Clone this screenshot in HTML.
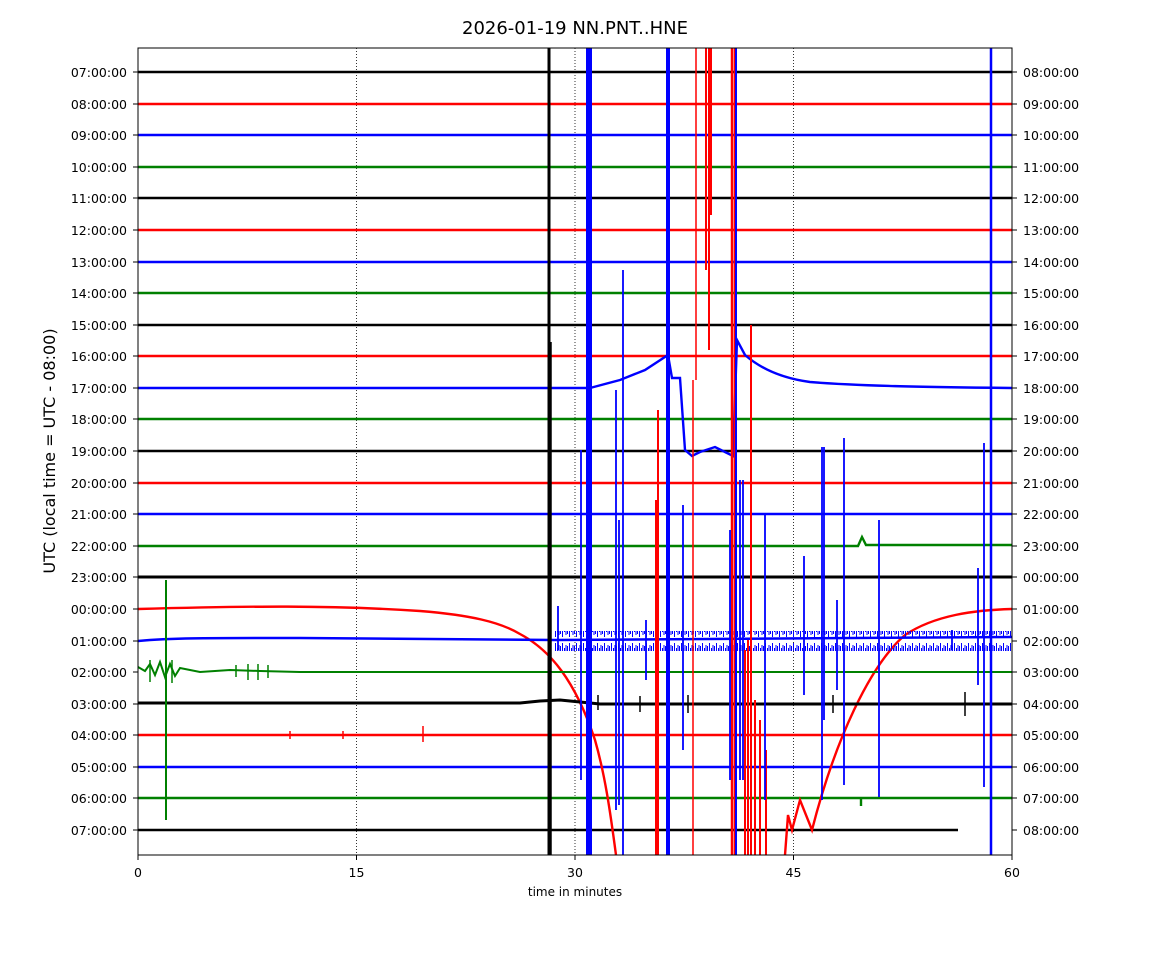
<!DOCTYPE html>
<html><head><style>
body{margin:0;background:#fff;}
svg text{font-family:"DejaVu Sans","Liberation Sans",sans-serif;}
</style></head><body>
<svg width="1150" height="950" viewBox="0 0 1150 950" xmlns="http://www.w3.org/2000/svg">
<rect width="1150" height="950" fill="#fff"/>
<text x="575" y="34" font-size="18" text-anchor="middle">2026-01-19 NN.PNT..HNE</text>
<defs>
<clipPath id="c"><rect x="138" y="48" width="874" height="807"/></clipPath>
<pattern id="nz" x="0" y="0" width="7" height="20" patternUnits="userSpaceOnUse">
<path d="M0.5 6V14M2.5 3V17M4.5 8V12M6 5V15" stroke="#00f" stroke-width="1"/>
</pattern>
</defs>
<g stroke="#000" stroke-width="0.8" stroke-dasharray="1,2">
<line x1="356.5" y1="48" x2="356.5" y2="855"/><line x1="575" y1="48" x2="575" y2="855"/><line x1="793.5" y1="48" x2="793.5" y2="855"/>
</g>
<g clip-path="url(#c)" fill="none" stroke-width="2.4">
<line x1="138" x2="1012" y1="72" y2="72" stroke="#000"/>
<line x1="138" x2="1012" y1="104" y2="104" stroke="#f00"/>
<line x1="138" x2="1012" y1="135" y2="135" stroke="#00f"/>
<line x1="138" x2="1012" y1="167" y2="167" stroke="#008000"/>
<line x1="138" x2="1012" y1="198" y2="198" stroke="#000"/>
<line x1="138" x2="1012" y1="230" y2="230" stroke="#f00"/>
<line x1="138" x2="1012" y1="262" y2="262" stroke="#00f"/>
<line x1="138" x2="1012" y1="293" y2="293" stroke="#008000"/>
<line x1="138" x2="1012" y1="325" y2="325" stroke="#000"/>
<line x1="138" x2="1012" y1="356" y2="356" stroke="#f00"/>
<line x1="138" x2="590" y1="388" y2="388" stroke="#00f"/>
<line x1="138" x2="1012" y1="419" y2="419" stroke="#008000"/>
<line x1="138" x2="1012" y1="451" y2="451" stroke="#000"/>
<line x1="138" x2="1012" y1="483" y2="483" stroke="#f00"/>
<line x1="138" x2="1012" y1="514" y2="514" stroke="#00f"/>
<path d="M138 546H858L862 537L866 545H1012" stroke="#008000"/>
<line x1="138" x2="1012" y1="577" y2="577" stroke="#000" stroke-width="3"/>
<line x1="138" x2="1012" y1="735" y2="735" stroke="#f00"/>
<line x1="138" x2="1012" y1="767" y2="767" stroke="#00f"/>
<line x1="138" x2="1012" y1="798" y2="798" stroke="#008000"/>
<line x1="138" x2="958" y1="830" y2="830" stroke="#000"/>
<!-- 00:00 red curve -->
<path d="M138 609C250 606 330 605 420 611C470 615 500 622 520 634C550 650 575 680 595 740C605 775 610 810 616 855" stroke="#f00"/>
<path d="M785 855L788 815L792 830L800 800L812 830C835 740 870 665 905 635C935 615 975 610 1012 609" stroke="#f00"/>
<!-- 01:00 blue -->
<path d="M138 641C170 638 200 638 300 638L555 640L1012 637" stroke="#00f" stroke-width="2.5"/>
<rect x="555" y="631" width="457" height="20" fill="url(#nz)" stroke="none"/>
<!-- 02:00 green -->
<path d="M138 667L145 671L150 664L155 675L160 662L165 677L170 664L175 676L180 668L200 672L230 670L260 671L300 672L1012 672" stroke="#008000" stroke-width="2"/>
<path d="M150 660V682M172 660V683M236 665V677M248 664V680M258 664V680M268 665V678" stroke="#008000" stroke-width="1.5"/>
<!-- 03:00 black -->
<path d="M138 703H520L540 701L560 700L580 702L600 704L1012 704" stroke="#000" stroke-width="3"/>
<path d="M598 695V710M640 696V712M688 695V713M833 695V713M965 692V716" stroke="#000" stroke-width="1.5"/>
<!-- 17:00 blue curve -->
<path d="M590 388L620 380L645 370L668 355L672 378L680 378L685 450L692 456L700 452L715 447L725 452L733 456L737 340L745 355C760 368 780 378 810 382C860 386 920 387 1012 388" stroke="#00f"/>
<!-- verticals -->
<line x1="549" y1="48" x2="549" y2="855" stroke="#000" stroke-width="3"/>
<line x1="551" y1="342" x2="551" y2="855" stroke="#000" stroke-width="1.5"/>
<line x1="589" y1="48" x2="589" y2="855" stroke="#00f" stroke-width="6"/>
<line x1="668" y1="48" x2="668" y2="855" stroke="#00f" stroke-width="4"/>
<line x1="991" y1="48" x2="991" y2="855" stroke="#00f" stroke-width="2.5"/>
<line x1="696" y1="48" x2="696" y2="380" stroke="#f00" stroke-width="1.5"/>
<line x1="693" y1="380" x2="693" y2="855" stroke="#f00" stroke-width="1.5"/>
<path d="M706 48V270M709 48V350M711 48V215" stroke="#f00" stroke-width="2"/>
<path d="M732 48V855M735 48V855" stroke="#f00" stroke-width="2.5"/>
<line x1="736" y1="48" x2="736" y2="855" stroke="#00f" stroke-width="2"/>
<path d="M658 410V855M656 500V855M751 325V855M745 650V855M748 640V855M755 700V855M760 720V855M766 750V855" stroke="#f00" stroke-width="2"/>
<path d="M581 450V780M558 606V650M616 390V810M619 520V805M623 270V855M646 620V680M683 505V750M730 530V780M740 480V780M743 480V780M765 515V800M804 556V695M822 447V800M824 447V720M837 600V690M844 438V785M879 520V797M952 630V650M978 568V685M984 443V787" stroke="#00f" stroke-width="1.8"/>
<line x1="166" y1="580" x2="166" y2="820" stroke="#008000" stroke-width="2"/>
<path d="M423 726V742M290 731V739M343 731V739" stroke="#f00" stroke-width="1.5"/>
<path d="M861 798V806" stroke="#008000"/>
</g>
<rect x="138" y="48" width="874" height="807" fill="none" stroke="#000" stroke-width="1"/>
<g font-size="12.5" fill="#000">
<g text-anchor="end">
<text x="127" y="77">07:00:00</text><text x="127" y="109">08:00:00</text><text x="127" y="140">09:00:00</text><text x="127" y="172">10:00:00</text><text x="127" y="203">11:00:00</text><text x="127" y="235">12:00:00</text><text x="127" y="267">13:00:00</text><text x="127" y="298">14:00:00</text><text x="127" y="330">15:00:00</text><text x="127" y="361">16:00:00</text><text x="127" y="393">17:00:00</text><text x="127" y="424">18:00:00</text><text x="127" y="456">19:00:00</text><text x="127" y="488">20:00:00</text><text x="127" y="519">21:00:00</text><text x="127" y="551">22:00:00</text><text x="127" y="582">23:00:00</text><text x="127" y="614">00:00:00</text><text x="127" y="646">01:00:00</text><text x="127" y="677">02:00:00</text><text x="127" y="709">03:00:00</text><text x="127" y="740">04:00:00</text><text x="127" y="772">05:00:00</text><text x="127" y="803">06:00:00</text><text x="127" y="835">07:00:00</text>
</g>
<g text-anchor="start">
<text x="1023" y="77">08:00:00</text><text x="1023" y="109">09:00:00</text><text x="1023" y="140">10:00:00</text><text x="1023" y="172">11:00:00</text><text x="1023" y="203">12:00:00</text><text x="1023" y="235">13:00:00</text><text x="1023" y="267">14:00:00</text><text x="1023" y="298">15:00:00</text><text x="1023" y="330">16:00:00</text><text x="1023" y="361">17:00:00</text><text x="1023" y="393">18:00:00</text><text x="1023" y="424">19:00:00</text><text x="1023" y="456">20:00:00</text><text x="1023" y="488">21:00:00</text><text x="1023" y="519">22:00:00</text><text x="1023" y="551">23:00:00</text><text x="1023" y="582">00:00:00</text><text x="1023" y="614">01:00:00</text><text x="1023" y="646">02:00:00</text><text x="1023" y="677">03:00:00</text><text x="1023" y="709">04:00:00</text><text x="1023" y="740">05:00:00</text><text x="1023" y="772">06:00:00</text><text x="1023" y="803">07:00:00</text><text x="1023" y="835">08:00:00</text>
</g>
<g text-anchor="middle">
<text x="138" y="877">0</text><text x="356.5" y="877">15</text><text x="575" y="877">30</text><text x="793.5" y="877">45</text><text x="1012" y="877">60</text>
<text x="575" y="896" font-size="12">time in minutes</text>
</g>
</g>
<g stroke="#000" stroke-width="1">
<path d="M133 72h5M133 104h5M133 135h5M133 167h5M133 198h5M133 230h5M133 262h5M133 293h5M133 325h5M133 356h5M133 388h5M133 419h5M133 451h5M133 483h5M133 514h5M133 546h5M133 577h5M133 609h5M133 641h5M133 672h5M133 704h5M133 735h5M133 767h5M133 798h5M133 830h5"/>
<path d="M1012 72h5M1012 104h5M1012 135h5M1012 167h5M1012 198h5M1012 230h5M1012 262h5M1012 293h5M1012 325h5M1012 356h5M1012 388h5M1012 419h5M1012 451h5M1012 483h5M1012 514h5M1012 546h5M1012 577h5M1012 609h5M1012 641h5M1012 672h5M1012 704h5M1012 735h5M1012 767h5M1012 798h5M1012 830h5"/>
<path d="M138 855v5M356.5 855v5M575 855v5M793.5 855v5M1012 855v5"/>
</g>
<text transform="translate(55,451) rotate(-90)" font-size="16" text-anchor="middle">UTC (local time = UTC - 08:00)</text>
</svg>
</body></html>
